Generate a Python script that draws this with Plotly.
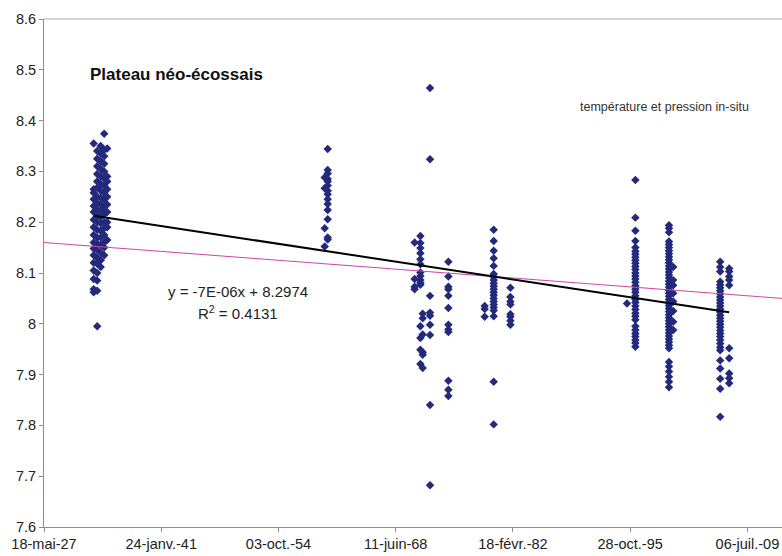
import pandas as pd
import plotly.graph_objects as go

# ---------------- data (pH, Plateau néo-écossais) ----------------
c1a_date = "1933-03-07"
c1a_ph = [8.355, 8.265, 8.258, 8.245, 8.232, 8.22, 8.205, 8.19, 8.175, 8.16, 8.148,
          8.135, 8.12, 8.105, 8.088, 8.068, 8.062]
c1b_date = "1933-08-03"
c1b_ph = [8.34, 8.325, 8.31, 8.295, 8.28, 8.268, 8.25, 8.238, 8.225, 8.212, 8.2, 8.185,
          8.17, 8.158, 8.145, 8.13, 8.118, 8.1, 8.085, 8.065, 7.995]
c1c_date = "1933-12-30"
c1c_ph = [8.35, 8.335, 8.32, 8.305, 8.29, 8.275, 8.262, 8.248, 8.235, 8.222, 8.21, 8.198,
          8.183, 8.17, 8.155, 8.14, 8.125, 8.112]
c1d_date = "1934-05-29"
c1d_ph = [8.374, 8.342, 8.33, 8.315, 8.3, 8.286, 8.272, 8.258, 8.244, 8.23, 8.215, 8.2,
          8.188, 8.175, 8.16, 8.15, 8.135]
c1e_date = "1934-10-03"
c1e_ph = [8.345, 8.29, 8.28, 8.265, 8.25, 8.235, 8.22, 8.2, 8.19, 8.165]

c2a_date = "1960-02-26"
c2a_ph = [8.288, 8.267, 8.188, 8.152]
c2b_date = "1960-07-03"
c2b_ph = [8.344, 8.303, 8.296, 8.285, 8.28, 8.272, 8.262, 8.255, 8.245, 8.236, 8.224,
          8.206, 8.17, 8.166]

c3l_date = "1970-08-28"
c3l_ph = [8.16, 8.088, 8.073, 8.068]
c3a_date = "1971-04-30"
c3a_ph = [8.173, 8.159, 8.149, 8.139, 8.127, 8.117, 8.101, 8.094, 8.086, 8.081, 8.077,
          7.995, 7.972, 7.949, 7.921]
c3m_date = "1971-08-07"
c3m_ph = [8.020, 8.011, 7.979, 7.944, 7.939, 7.913]
c3b_date = "1972-06-14"
c3b_ph = [8.464, 8.324, 8.055, 8.022, 8.016, 7.998, 7.978, 7.840, 7.682]
c3c_date = "1974-08-06"
c3c_ph = [8.122, 8.093, 8.073, 8.068, 8.055, 8.031, 7.998, 7.989, 7.984, 7.888, 7.870, 7.858]

c4l_date = "1978-11-02"
c4l_ph = [8.035, 8.029, 8.014]
c4a_date = "1979-11-21"
c4a_ph = [8.185, 8.163, 8.144, 8.129, 8.114, 8.098, 8.092, 8.086, 8.08, 8.074, 8.068,
          8.062, 8.056, 8.05, 8.044, 8.038, 8.032, 8.026, 8.015, 7.886, 7.802]
c4b_date = "1981-11-02"
c4b_ph = [8.071, 8.053, 8.044, 8.038, 8.019, 8.014, 8.006, 7.998]

c5l_date = "1995-06-15"
c5l_ph = [8.040]
c5a_date = "1996-06-07"
c5a_ph = [8.283, 8.209, 8.183, 8.163, 8.15, 8.143, 8.137, 8.131, 8.125, 8.119, 8.113,
          8.107, 8.1, 8.094, 8.088, 8.082, 8.075, 8.068, 8.062, 8.055, 8.048, 8.042,
          8.035, 8.028, 8.021, 8.015, 8.008, 7.995, 7.988, 7.981, 7.975, 7.968, 7.962, 7.955]

c6a_date = "2000-05-10"
c6a_ph = [8.194, 8.188, 8.18, 8.162, 8.156, 8.15, 8.144, 8.138, 8.132, 8.126, 8.12, 8.114,
          8.108, 8.102, 8.096, 8.09, 8.084, 8.078, 8.072, 8.066, 8.06, 8.054, 8.048, 8.042,
          8.036, 8.03, 8.024, 8.018, 8.012, 8.006, 8.0, 7.994, 7.988, 7.982, 7.976, 7.97,
          7.964, 7.958, 7.952, 7.925, 7.916, 7.906, 7.896, 7.886, 7.875]
c6b_date = "2000-11-05"
c6b_ph = [8.112, 8.086, 8.076, 8.06, 8.044, 8.025, 8.004, 7.988]

c7a_date = "2006-05-03"
c7a_ph = [8.122, 8.112, 8.103, 8.083, 8.077, 8.071, 8.065, 8.059, 8.053, 8.047, 8.041,
          8.035, 8.029, 8.023, 8.017, 8.011, 8.005, 7.999, 7.993, 7.987, 7.981, 7.975,
          7.968, 7.961, 7.954, 7.948, 7.928, 7.912, 7.892, 7.872, 7.817]
c7b_date = "2007-05-22"
c7b_ph = [8.109, 8.103, 8.093, 8.086, 8.076, 7.952, 7.932, 7.902, 7.893, 7.883]

# Excel linear trend (x = Excel date serial)
trend_slope = -7e-06
trend_intercept = 8.2974
trend_label = "y = -7E-06x + 8.2974"
r2_label = "R<sup>2</sup> = 0.4131"

# reference (pink) line
ref_dates = ["1927-05-18", "2013-07-21"]
ref_ph = [8.160, 8.050]

tick_dates = ["1927-05-18", "1941-01-24", "1954-10-03", "1968-06-11",
              "1982-02-18", "1995-10-28", "2009-07-06"]
tick_text = ["18-mai-27", "24-janv.-41", "03-oct.-54", "11-juin-68",
             "18-févr.-82", "28-oct.-95", "06-juil.-09"]
y_ticks = [7.6, 7.7, 7.8, 7.9, 8.0, 8.1, 8.2, 8.3, 8.4, 8.5, 8.6]
y_text = ["7.6", "7.7", "7.8", "7.9", "8", "8.1", "8.2", "8.3", "8.4", "8.5", "8.6"]
x_range = ["1927-05-18", "2013-07-21"]

title_text = "Plateau néo-écossais"
note_text = "température et pression in-situ"

# ---------------- build ----------------
groups = [
    (c1a_date, c1a_ph), (c1b_date, c1b_ph), (c1c_date, c1c_ph), (c1d_date, c1d_ph),
    (c1e_date, c1e_ph), (c2a_date, c2a_ph), (c2b_date, c2b_ph), (c3l_date, c3l_ph),
    (c3a_date, c3a_ph), (c3m_date, c3m_ph), (c3b_date, c3b_ph), (c3c_date, c3c_ph),
    (c4l_date, c4l_ph), (c4a_date, c4a_ph), (c4b_date, c4b_ph), (c5l_date, c5l_ph),
    (c5a_date, c5a_ph), (c6a_date, c6a_ph), (c6b_date, c6b_ph), (c7a_date, c7a_ph),
    (c7b_date, c7b_ph),
]
xs, ys = [], []
for d, vals in groups:
    xs += [d] * len(vals)
    ys += vals

dts = pd.to_datetime(pd.Series(xs))
excel_epoch = pd.Timestamp("1899-12-30")
serials = (dts - excel_epoch).dt.days
tmin, tmax = dts.min(), dts.max()
smin, smax = serials.min(), serials.max()
trend_x = [tmin, tmax]
trend_y = [trend_intercept + trend_slope * smin, trend_intercept + trend_slope * smax]

FONT = "Arial, 'Liberation Sans', sans-serif"
AX = "#8c8c8c"

fig = go.Figure()
fig.add_trace(go.Scatter(x=dts, y=ys, mode="markers",
                         marker=dict(symbol="diamond", size=6.5, color="#232a7c",
                                     line=dict(width=0)),
                         hoverinfo="skip", showlegend=False))
fig.add_trace(go.Scatter(x=pd.to_datetime(ref_dates), y=ref_ph, mode="lines",
                         line=dict(color="#cc44aa", width=1), hoverinfo="skip",
                         showlegend=False))
fig.add_trace(go.Scatter(x=trend_x, y=trend_y, mode="lines",
                         line=dict(color="black", width=2), hoverinfo="skip",
                         showlegend=False))

fig.update_layout(
    width=782, height=556,
    margin=dict(l=44, r=0, t=19, b=29, pad=0),
    paper_bgcolor="white", plot_bgcolor="white",
    font=dict(family=FONT, size=14.5, color="#222"),
    showlegend=False,
    xaxis=dict(type="date", range=x_range, tickvals=tick_dates, ticktext=tick_text,
               showgrid=False, zeroline=False, showline=True, linecolor=AX, linewidth=1,
               ticks="outside", ticklen=4, tickcolor=AX, tickangle=0,
               tickfont=dict(size=14.5, color="#222")),
    yaxis=dict(range=[7.6, 8.6], tickvals=y_ticks, ticktext=y_text,
               showgrid=False, zeroline=False, showline=True, linecolor=AX, linewidth=1,
               ticks="outside", ticklen=4, tickcolor=AX,
               tickfont=dict(size=14.5, color="#222")),
    shapes=[dict(type="line", xref="paper", yref="paper", x0=0, x1=1, y0=1, y1=1,
                 line=dict(color="#c4c4c4", width=1.5))],
    annotations=[
        dict(text="<b>" + title_text + "</b>", xref="paper", yref="paper",
             x=0.060, y=0.8917, xanchor="left", yanchor="middle", showarrow=False,
             font=dict(size=17, color="#111")),
        dict(text=note_text, xref="paper", yref="paper", x=0.7232, y=0.8274,
             xanchor="left", yanchor="middle", showarrow=False,
             font=dict(size=12.5, color="#333")),
        dict(text=trend_label, xref="paper", yref="paper", x=0.2622, y=0.4632,
             xanchor="center", yanchor="middle", showarrow=False,
             font=dict(size=15, color="#222")),
        dict(text=r2_label, xref="paper", yref="paper", x=0.2622, y=0.4219,
             xanchor="center", yanchor="middle", showarrow=False,
             font=dict(size=15, color="#222")),
    ],
)

fig.write_html("out.html")
